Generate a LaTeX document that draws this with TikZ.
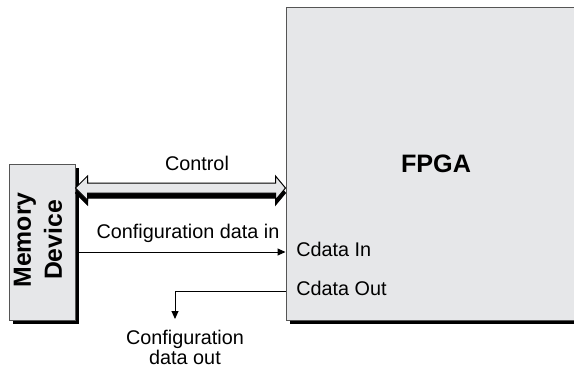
\documentclass[tikz,border=0pt]{standalone}
\usepackage{fontspec}
\setmainfont{Liberation Sans}
\definecolor{boxgray}{RGB}{230,231,233}
\definecolor{edgegray}{RGB}{85,85,85}
\usetikzlibrary{arrows.meta,positioning,calc,shadows}

\begin{document}
\begin{tikzpicture}[x=0.5pt,y=-0.5pt,
  blockbox/.style={draw=edgegray,line width=0.5pt,fill=boxgray,inner sep=0pt,
    drop shadow={shadow xshift=2.2pt,shadow yshift=-2.2pt,opacity=1,fill=black}},
  sig/.style={line width=0.5pt,-{Triangle[length=4pt,width=3.5pt]}},
  lbl/.style={font=\fontsize{9.9}{10}\selectfont,inner sep=0pt,align=center},
  ctlshadow/.style={fill=black,draw=black,line width=0.5pt},
  ctlbody/.style={fill=boxgray,draw=black,line width=0.5pt}]
  \useasboundingbox (0,0) rectangle (574,370);
  % blocks
  \node[blockbox,minimum width=33pt,minimum height=78pt] (mem) at (42,242) {};
  \node[rotate=90,font=\fontsize{12.4}{15.5}\selectfont\bfseries,align=center] (memtxt) at (38,240) {Memory\\Device};
  \node[blockbox,minimum width=150pt,minimum height=156.5pt,font=\fontsize{12.6}{15}\selectfont\bfseries] (fpga) at (436,163.5) {FPGA};
  % control bus
  \path (0,188) coordinate (ctly) (0,252) coordinate (iny) (0,291) coordinate (outy);
  \coordinate (ctlL) at (mem.east |- ctly);
  \coordinate (ctlR) at (fpga.west |- ctly);
  \foreach \dy/\sty in {5/ctlshadow,0/ctlbody}
    \draw[\sty] ($(ctlL)+(0,\dy)$) -- ++(12,-12) -- ++(0,7) -- ($(ctlR)+(-10,-5+\dy)$) -- ++(0,-7)
      -- ($(ctlR)+(0,\dy)$) -- ++(-10,12) -- ++(0,-7) -- ($(ctlL)+(12,5+\dy)$) -- ++(0,7) -- cycle;
  \node[lbl] (ctltxt) at (197,163) {Control};
  % configuration data
  \draw[sig] (mem.east |- iny) -- (fpga.west |- iny);
  \node[lbl] (intxt) at (188,233) {Configuration data in};
  \node[lbl,anchor=west] (cin) at (296,249) {Cdata In};
  \node[lbl,anchor=west] (cout) at (296,288) {Cdata Out};
  \coordinate (outend) at (175,319);
  \draw[sig] (fpga.west |- outy) -| (outend);
  \node[lbl] (outtxt) at (185,347) {Configuration\\data out};
\end{tikzpicture}
\end{document}
